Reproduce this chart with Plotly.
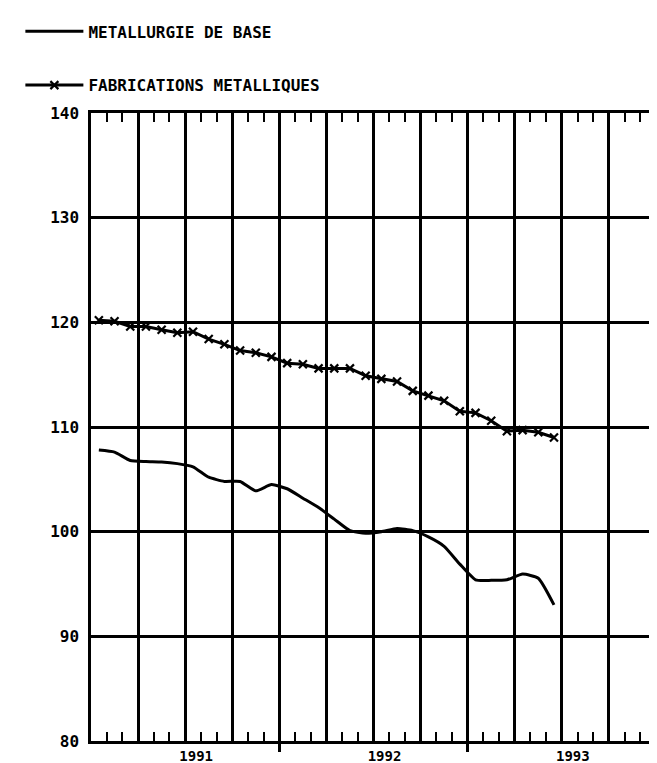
import plotly.graph_objects as go
import pandas as pd

# ---- data (monthly) ----
months = pd.period_range("1991-01", "1993-06", freq="M")
fab_values = [120.2, 120.1, 119.6, 119.6, 119.3, 119.0, 119.1, 118.4, 117.9, 117.3,
              117.1, 116.7, 116.1, 116.0, 115.6, 115.6, 115.6, 114.9, 114.6, 114.35,
              113.45, 113.0, 112.5, 111.5, 111.35, 110.6, 109.6, 109.7, 109.5, 109.0]
metal_values = [107.8, 107.6, 106.8, 106.7, 106.65, 106.5, 106.2, 105.2, 104.8, 104.8,
                103.9, 104.5, 104.1, 103.2, 102.3, 101.2, 100.1, 99.85, 100.0, 100.3,
                100.1, 99.5, 98.6, 96.9, 95.4, 95.35, 95.4, 95.95, 95.55, 93.0]
year_labels = ["1991", "1992", "1993"]
y_ticks = [80, 90, 100, 110, 120, 130, 140]

start = months[0]
x_pos = [(p - start).n + 0.5 for p in months]   # month centres on a 0..36 month scale
n_months = 12 * len(year_labels)
label_pos = [12 * i + 6.7 for i in range(len(year_labels))]
year_bounds = [12 * i for i in range(1, len(year_labels))]

FONT = "DejaVu Sans Mono"

fig = go.Figure()
fig.add_trace(go.Scatter(
    x=x_pos, y=metal_values, mode="lines", name="METALLURGIE DE BASE",
    line=dict(color="black", width=3, shape="spline", smoothing=0.5),
    legendgroup="a", hoverinfo="skip"))
fig.add_trace(go.Scatter(
    x=x_pos, y=fab_values, mode="lines+markers", name="FABRICATIONS METALLIQUES",
    line=dict(color="black", width=3),
    marker=dict(symbol="x-thin", size=8, line=dict(color="black", width=2.2)),
    legendgroup="b", hoverinfo="skip"))
# invisible helpers so the overlay axes get drawn
for ax in ("x2", "x3"):
    fig.add_trace(go.Scatter(x=x_pos, y=fab_values, xaxis=ax, mode="lines",
                             line=dict(width=0), opacity=0, showlegend=False,
                             hoverinfo="skip"))

fig.update_layout(
    width=657, height=763,
    margin=dict(l=83, r=6, t=101, b=30),
    paper_bgcolor="white", plot_bgcolor="white",
    font=dict(family=FONT, size=16, color="black", weight="bold"),
    showlegend=True,
    legend=dict(x=-0.125, xanchor="left", y=1.157, yanchor="top",
                traceorder="grouped", tracegroupgap=30, itemwidth=58,
                font=dict(family=FONT, size=16, color="black", weight="bold"),
                bgcolor="rgba(0,0,0,0)"),
    xaxis=dict(range=[0, n_months], tickmode="array", tickvals=label_pos,
               ticktext=year_labels, ticks="", showgrid=False, zeroline=False,
               showline=True, linecolor="black", linewidth=2.5, mirror=True,
               ticklabelstandoff=0,
               tickfont=dict(family=FONT, size=14, weight="bold"),
               minor=dict(tickmode="linear", tick0=0, dtick=3, showgrid=True,
                          gridcolor="black", gridwidth=2.5, ticks="")),
    xaxis2=dict(range=[0, n_months], overlaying="x", anchor="y", side="bottom",
                tickmode="linear", tick0=0, dtick=1, ticks="inside", ticklen=9,
                tickwidth=2, tickcolor="black", showticklabels=False,
                showgrid=False, zeroline=False, showline=False, mirror="ticks"),
    xaxis3=dict(range=[0, n_months], overlaying="x", anchor="y", side="bottom",
                tickmode="array", tickvals=year_bounds, ticks="outside", ticklen=10,
                tickwidth=2.5, tickcolor="black", showticklabels=False,
                showgrid=False, zeroline=False, showline=False),
    yaxis=dict(range=[80, 140], tickmode="array", tickvals=y_ticks, ticks="",
               showgrid=True, gridcolor="black", gridwidth=2.5, zeroline=False,
               showline=True, linecolor="black", linewidth=2.5, mirror=True,
               ticklabelstandoff=6,
               tickfont=dict(family=FONT, size=16, weight="bold")),
)

fig.write_html("out.html")
